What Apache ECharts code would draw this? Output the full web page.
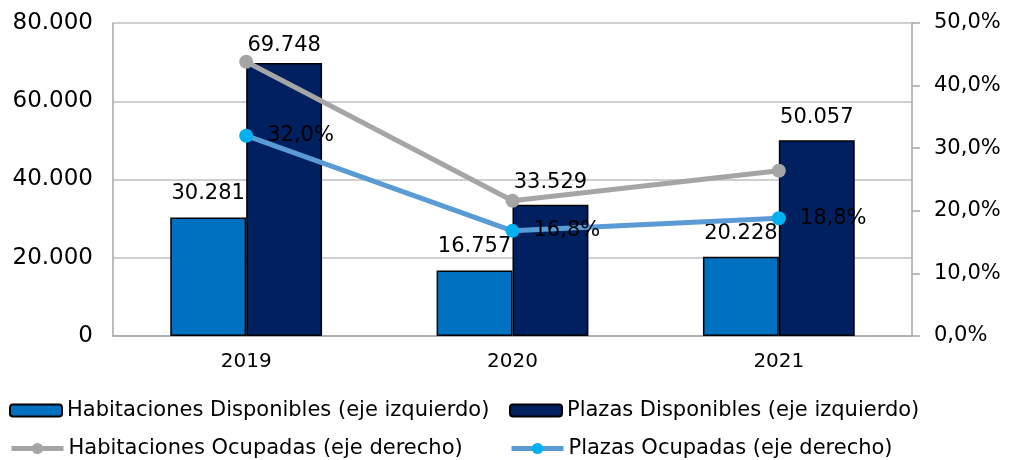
<!DOCTYPE html>
<html>
<head>
<meta charset="utf-8">
<script src="https://cdn.jsdelivr.net/npm/echarts@6/dist/echarts.min.js"></script>
<style>
  html, body { margin: 0; padding: 0; background: #fff; }
  #chart { width: 1014px; height: 460px; }
</style>
</head>
<body>
<div id="chart"></div>
<script>
var years = ['2019', '2020', '2021'];
var habDisponibles = [30281, 16757, 20228];
var plazasDisponibles = [69748, 33529, 50057];
var habOcupadas = [43.8, 21.6, 26.4];
var plazasOcupadas = [32.0, 16.8, 18.8];

var fuente = 'DejaVu Sans';

function miles(v) {
  return String(Math.round(v)).replace(/\B(?=(\d{3})+(?!\d))/g, '.');
}
function pct(v) {
  return v.toFixed(1).replace('.', ',') + '%';
}

var chart = echarts.init(document.getElementById('chart'));

var textoLeyenda = { color: '#000', fontSize: 21, fontFamily: fuente };

// la etiqueta de 69.748 queda más pegada a la barra
var plazasData = plazasDisponibles.map(function (v, i) {
  return i === 0 ? { value: v, label: { distance: 7 } } : v;
});

var option = {
  animation: false,
  textStyle: { fontFamily: fuente },
  grid: { left: 113, right: 102, top: 23, bottom: 124 },
  legend: [
    { data: ['Habitaciones Disponibles (eje izquierdo)'], left: 4, top: 395, itemWidth: 52, itemHeight: 12, itemGap: 6, textStyle: textoLeyenda },
    { data: ['Plazas Disponibles (eje izquierdo)'], left: 504, top: 395, itemWidth: 52, itemHeight: 12, textStyle: textoLeyenda },
    { data: ['Habitaciones Ocupadas (eje derecho)'], left: 4, top: 433, itemWidth: 52, itemHeight: 14, lineStyle: { width: 5 }, textStyle: textoLeyenda },
    { data: ['Plazas Ocupadas (eje derecho)'], left: 504, top: 433, itemWidth: 52, itemHeight: 14, lineStyle: { width: 5 }, textStyle: textoLeyenda }
  ],
  xAxis: {
    type: 'category',
    data: years,
    axisLine: { lineStyle: { color: '#A6A6A6', width: 1.5 } },
    axisTick: { show: false },
    axisLabel: { color: '#000', fontSize: 20, margin: 16 }
  },
  yAxis: [
    {
      type: 'value',
      min: 0, max: 80000, interval: 20000,
      axisLine: { show: true, lineStyle: { color: '#A6A6A6', width: 1.5 } },
      axisTick: { show: false },
      splitLine: { lineStyle: { color: '#BFBFBF', width: 1.5 } },
      axisLabel: { color: '#000', fontSize: 23, margin: 20, formatter: miles }
    },
    {
      type: 'value',
      min: 0, max: 50, interval: 10,
      position: 'right',
      axisLine: { show: true, lineStyle: { color: '#A6A6A6', width: 1.5 } },
      axisTick: { show: true, length: 8, lineStyle: { color: '#A6A6A6', width: 1.5 } },
      splitLine: { show: false },
      axisLabel: { color: '#000', fontSize: 21, margin: 22, formatter: pct }
    }
  ],
  series: [
    {
      name: 'Habitaciones Disponibles (eje izquierdo)',
      type: 'bar',
      data: habDisponibles,
      barWidth: '28.5%',
      barGap: '0%',
      itemStyle: { color: '#0070C0', borderColor: '#000', borderWidth: 1.5 },
      label: { show: true, position: 'top', distance: 13, color: '#000', fontSize: 21, formatter: function (p) { return miles(p.value); } }
    },
    {
      name: 'Plazas Disponibles (eje izquierdo)',
      type: 'bar',
      data: plazasData,
      barWidth: '28.5%',
      itemStyle: { color: '#002060', borderColor: '#000', borderWidth: 1.5 },
      label: { show: true, position: 'top', distance: 12, color: '#000', fontSize: 21, formatter: function (p) { return miles(p.value); } }
    },
    {
      name: 'Habitaciones Ocupadas (eje derecho)',
      type: 'line',
      yAxisIndex: 1,
      data: habOcupadas,
      symbol: 'circle',
      symbolSize: 14,
      lineStyle: { color: '#A5A5A5', width: 5 },
      itemStyle: { color: '#A5A5A5' }
    },
    {
      name: 'Plazas Ocupadas (eje derecho)',
      type: 'line',
      yAxisIndex: 1,
      data: plazasOcupadas,
      symbol: 'circle',
      symbolSize: 14,
      lineStyle: { color: '#5B9BD5', width: 5 },
      itemStyle: { color: '#00B0F0' },
      label: { show: true, position: 'right', distance: 14, color: '#000', fontSize: 21, formatter: function (p) { return pct(p.value); } }
    }
  ]
};

chart.setOption(option);
</script>
</body>
</html>
